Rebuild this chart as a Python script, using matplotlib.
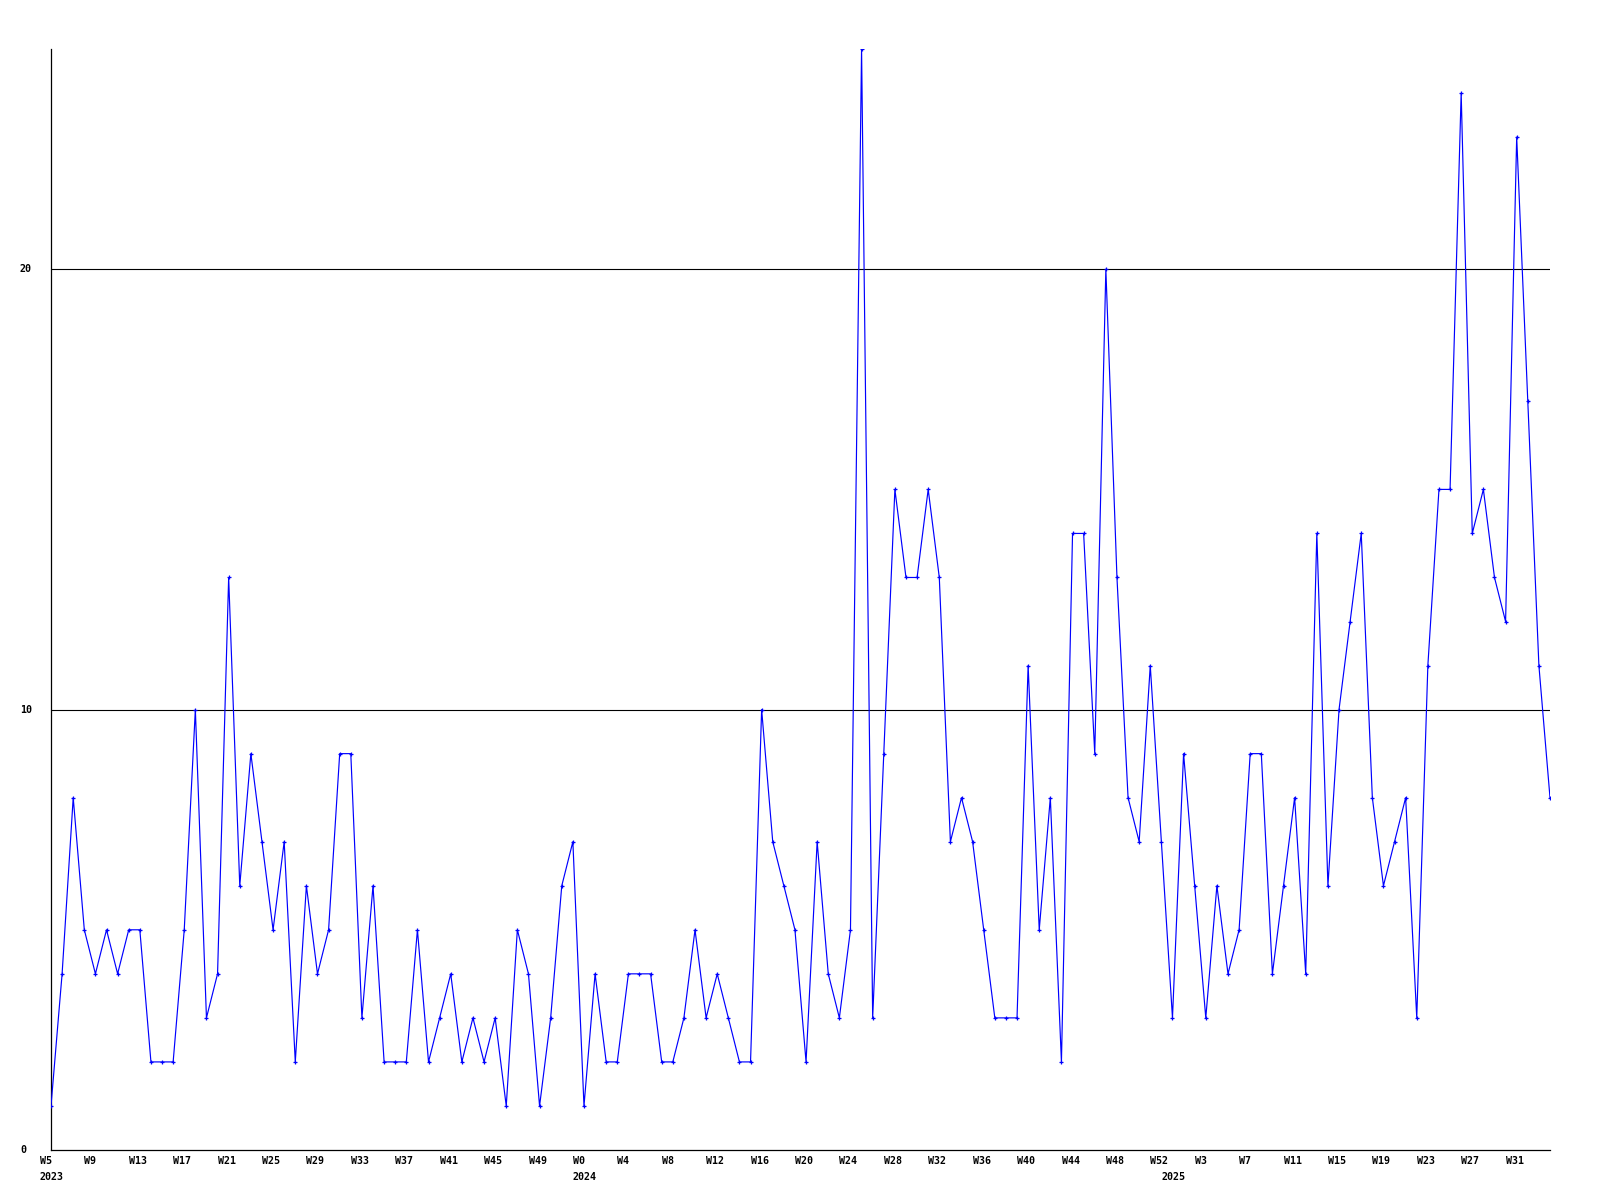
import matplotlib
matplotlib.use("Agg")
import matplotlib.pyplot as plt
import matplotlib.transforms as mtransforms

# weekly counts, W5 2023 .. W34 2025
counts = [1, 4, 8, 5, 4, 5, 4, 5, 5, 2, 2, 2, 5, 10, 3, 4, 13, 6, 9, 7,
          5, 7, 2, 6, 4, 5, 9, 9, 3, 6, 2, 2, 2, 5, 2, 3, 4, 2, 3, 2,
          3, 1, 5, 4, 1, 3, 6, 7,
          1, 4, 2, 2, 4, 4, 4, 2, 2, 3, 5, 3, 4, 3, 2, 2, 10, 7, 6, 5,
          2, 7, 4, 3, 5, 25, 3, 9, 15, 13, 13, 15, 13, 7, 8, 7, 5, 3, 3, 3,
          11, 5, 8, 2, 14, 14, 9, 20, 13, 8, 7, 11, 7,
          3, 9, 6, 3, 6, 4, 5, 9, 9, 4, 6, 8, 4, 14, 6, 10, 12, 14, 8, 6,
          7, 8, 3, 11, 15, 15, 24, 14, 15, 13, 12, 23, 17, 11, 8]

week_labels = ["W5", "W9", "W13", "W17", "W21", "W25", "W29", "W33", "W37",
               "W41", "W45", "W49", "W0", "W4", "W8", "W12", "W16", "W20",
               "W24", "W28", "W32", "W36", "W40", "W44", "W48", "W52", "W3",
               "W7", "W11", "W15", "W19", "W23", "W27", "W31"]
week_step = 4
years = ["2023", "2024", "2025"]
year_start_idx = [0, 48, 101]
y_ticks = [0, 10, 20]

x = list(range(len(counts)))

fig = plt.figure(figsize=(16, 12), dpi=100)
ax = fig.add_axes([51 / 1600, 1 - 1150 / 1200, (1550 - 51) / 1600, (1150 - 49) / 1200])

for yv in y_ticks[1:]:
    ax.axhline(yv, color="black", lw=0.8, zorder=1)

ax.plot(x, counts, color="#0000ff", lw=0.85, marker="+", ms=3.5, mew=0.9, zorder=3)

ax.set_xlim(0, len(counts) - 1)
ax.set_ylim(0, 25)
ax.set_xticks([])
ax.set_yticks([])
for s in ["top", "right"]:
    ax.spines[s].set_visible(False)
for s in ["left", "bottom"]:
    ax.spines[s].set_linewidth(0.9)
    ax.spines[s].set_color("black")

font = dict(family="DejaVu Sans Mono", fontsize=7.2, fontweight="bold", color="black")

blend = mtransforms.blended_transform_factory(ax.transData, ax.transAxes)
wk_off = mtransforms.ScaledTranslation(-11 / 100, -11 / 100, fig.dpi_scale_trans)
yr_off = mtransforms.ScaledTranslation(-11 / 100, -27 / 100, fig.dpi_scale_trans)
for i, lab in enumerate(week_labels):
    ax.text(i * week_step, 0, lab, transform=blend + wk_off, ha="left", va="center", **font)
for idx, yr in zip(year_start_idx, years):
    ax.text(idx, 0, yr, transform=blend + yr_off, ha="left", va="center", **font)

yblend = mtransforms.blended_transform_factory(fig.transFigure, ax.transData)
for yv in y_ticks:
    ax.text(20 / 1600, yv, str(yv), transform=yblend, ha="left", va="center", **font)

fig.savefig("out.png", dpi=100, facecolor="white")
